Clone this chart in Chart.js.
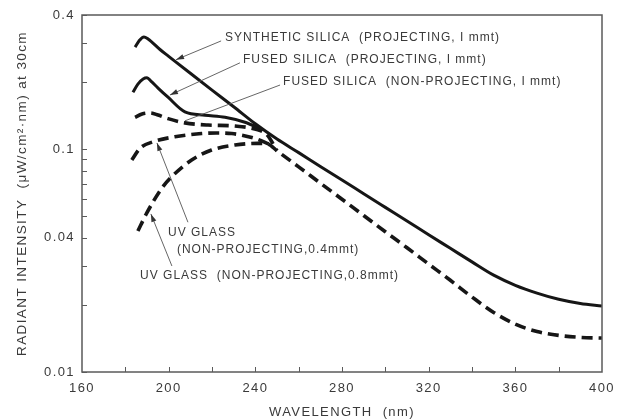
<!DOCTYPE html>
<html lang="en">
<head>
  <meta charset="UTF-8" />
  <title>Radiant intensity vs wavelength</title>
  <script src="https://cdn.jsdelivr.net/npm/chart.js"></script>
  <style>
    html, body { margin: 0; padding: 0; background: #fff; }
    #wrap { width: 624px; height: 420px; }
  </style>
</head>
<body>
  <div id="wrap"><canvas id="chart" width="624" height="420"></canvas></div>

  <script>
    // wavelength (nm) and radiant intensity (uW/cm2.nm at 30cm)
    const synthWl  = [184.5, 186.3, 188.6, 190.5, 196, 200, 210, 220, 230, 240, 250, 260, 270, 280, 290, 300, 310, 320, 330, 340, 350, 360, 370, 380, 390, 400];
    const synthVal = [0.287, 0.306, 0.319, 0.312, 0.28, 0.261, 0.219, 0.184, 0.155, 0.130, 0.111, 0.0965, 0.0836, 0.0727, 0.0631, 0.0548, 0.0476, 0.0413, 0.0359, 0.0312, 0.0272, 0.0245, 0.0226, 0.0212, 0.0203, 0.0198];

    const fusedWl  = [183.5, 185.8, 188.2, 190, 191.8, 195.1, 199.7, 207.5, 216.8, 226, 235.2, 243.5];
    const fusedVal = [0.180, 0.196, 0.2065, 0.209, 0.202, 0.188, 0.171, 0.147, 0.142, 0.139, 0.132, 0.122];

    const fusedNpWl  = [184.5, 187.7, 191.4, 195.1, 199.7, 207.5, 218.2, 230.6, 241.2, 245.4, 250];
    const fusedNpVal = [0.139, 0.1438, 0.1453, 0.1423, 0.1371, 0.1312, 0.1283, 0.127, 0.122, 0.116, 0.0983];

    const uv4Wl  = [183, 186.8, 192.9, 202.9, 215.2, 222, 229.1, 239.8, 246.8];
    const uv4Val = [0.0894, 0.101, 0.108, 0.1137, 0.1175, 0.1182, 0.1175, 0.1118, 0.105];

    const uv8Wl  = [185.8, 189.8, 196.8, 201.4, 210.6, 219.8, 230.6, 241.2, 246, 250, 260, 270, 280, 290, 300, 310, 320, 330, 340, 350, 360, 370, 380, 390, 400];
    const uv8Val = [0.0429, 0.0515, 0.0667, 0.0752, 0.0894, 0.0991, 0.1044, 0.1062, 0.1052, 0.0983, 0.0833, 0.0704, 0.0596, 0.0504, 0.0426, 0.0361, 0.0305, 0.0258, 0.0217, 0.0185, 0.0164, 0.0152, 0.0146, 0.0143, 0.0142];

    const yLabels = [0.01, 0.04, 0.1, 0.4];
    const yMinor  = [0.02, 0.03, 0.05, 0.06, 0.07, 0.08, 0.09, 0.2, 0.3];
    const xMinor  = [180, 200, 220, 240, 260, 280, 300, 320, 340, 360, 380];

    // callouts, anchored in data units [nm, value]
    const notes = [
      { text: 'SYNTHETIC SILICA  (PROJECTING, I mmt)', at: [226.0, 0.316], from: [224.2, 0.306], to: [203.4, 0.252], arrow: true },
      { text: 'FUSED SILICA  (PROJECTING, I mmt)', at: [234.3, 0.251], from: [232.9, 0.244], to: [200.6, 0.175], arrow: true },
      { text: 'FUSED SILICA  (NON-PROJECTING, I mmt)', at: [252.8, 0.200], from: [251.4, 0.194], to: [207.5, 0.134], arrow: false },
      { text: 'UV GLASS', at: [199.7, 0.0424], from: [208.9, 0.047], to: [194.6, 0.1066], arrow: true },
      { text: '(NON-PROJECTING,0.4mmt)', at: [203.8, 0.0353] },
      { text: 'UV GLASS  (NON-PROJECTING,0.8mmt)', at: [186.8, 0.027], from: [201.5, 0.0299], to: [191.8, 0.0512], arrow: true }
    ];

    const ink = '#161616';
    const textColor = '#3a3a3a';
    const family = '"Liberation Sans", Arial, sans-serif';

    const toXY = (xs, ys) => xs.map((x, i) => ({ x: x, y: ys[i] }));

    function series(xs, ys, dashed) {
      return {
        data: toXY(xs, ys),
        borderColor: ink,
        borderWidth: dashed ? 3.6 : 3,
        borderDash: dashed ? [11, 6] : [],
        pointRadius: 0,
        fill: false,
        cubicInterpolationMode: 'monotone'
      };
    }

    function arrowHead(ctx, fx, fy, tx, ty) {
      const a = Math.atan2(ty - fy, tx - fx);
      const len = 8, half = 2.6;
      const bx = tx - len * Math.cos(a), by = ty - len * Math.sin(a);
      ctx.beginPath();
      ctx.moveTo(tx, ty);
      ctx.lineTo(bx + half * Math.sin(a), by - half * Math.cos(a));
      ctx.lineTo(bx - half * Math.sin(a), by + half * Math.cos(a));
      ctx.closePath();
      ctx.fill();
    }

    const frameAndNotes = {
      id: 'frameAndNotes',
      beforeDraw(chart) {
        chart.ctx.letterSpacing = '1.4px';
      },
      afterDatasetsDraw(chart) {
        const { ctx, chartArea: a, scales: { x, y } } = chart;
        ctx.save();
        ctx.setLineDash([]);

        // plot frame
        ctx.strokeStyle = '#5a5a5a';
        ctx.lineWidth = 1.5;
        ctx.strokeRect(a.left, a.top, a.right - a.left, a.bottom - a.top);

        // inward tick marks on left and bottom
        ctx.lineWidth = 1;
        ctx.beginPath();
        yLabels.concat(yMinor).forEach(v => {
          const py = Math.round(y.getPixelForValue(v)) + 0.5;
          ctx.moveTo(a.left, py);
          ctx.lineTo(a.left + 5, py);
        });
        xMinor.forEach(v => {
          const px = Math.round(x.getPixelForValue(v)) + 0.5;
          ctx.moveTo(px, a.bottom);
          ctx.lineTo(px, a.bottom - 5);
        });
        ctx.stroke();

        // callouts
        ctx.font = '12px ' + family;
        ctx.letterSpacing = '1px';
        ctx.fillStyle = textColor;
        ctx.textBaseline = 'middle';
        ctx.textAlign = 'left';
        notes.forEach(n => {
          ctx.fillText(n.text, x.getPixelForValue(n.at[0]), y.getPixelForValue(n.at[1]));
          if (!n.from) return;
          const fx = x.getPixelForValue(n.from[0]), fy = y.getPixelForValue(n.from[1]);
          const tx = x.getPixelForValue(n.to[0]), ty = y.getPixelForValue(n.to[1]);
          ctx.strokeStyle = '#555';
          ctx.lineWidth = 0.9;
          ctx.beginPath();
          ctx.moveTo(fx, fy);
          ctx.lineTo(tx, ty);
          ctx.stroke();
          if (n.arrow) {
            ctx.fillStyle = '#333';
            arrowHead(ctx, fx, fy, tx, ty);
            ctx.fillStyle = textColor;
          }
        });
        ctx.restore();
      }
    };

    new Chart(document.getElementById('chart'), {
      type: 'line',
      data: {
        datasets: [
          series(synthWl, synthVal, false),
          series(fusedWl, fusedVal, false),
          series(fusedNpWl, fusedNpVal, true),
          series(uv4Wl, uv4Val, true),
          series(uv8Wl, uv8Val, true)
        ]
      },
      options: {
        responsive: false,
        animation: false,
        events: [],
        layout: { padding: { left: 0, right: 22, top: 15, bottom: 0 } },
        plugins: { legend: { display: false }, tooltip: { enabled: false } },
        scales: {
          x: {
            type: 'linear',
            min: 160,
            max: 400,
            grid: { display: false, drawTicks: false },
            border: { display: false },
            ticks: { stepSize: 40, maxRotation: 0, padding: 9, color: textColor, font: { family: family, size: 13 } },
            title: { display: true, text: 'WAVELENGTH  (nm)', color: textColor, font: { family: family, size: 13 }, padding: 0 },
            afterFit: s => { s.height = 48; }
          },
          y: {
            type: 'logarithmic',
            min: 0.01,
            max: 0.4,
            grid: { display: false, drawTicks: false },
            border: { display: false },
            afterBuildTicks: s => { s.ticks = yLabels.map(v => ({ value: v })); },
            ticks: { padding: 7, color: textColor, font: { family: family, size: 13 }, callback: v => String(v) },
            title: { display: true, text: 'RADIANT INTENSITY  (μW/cm²·nm) at 30cm', color: textColor, font: { family: family, size: 13.5 }, padding: { top: 14, bottom: 0 } },
            afterFit: s => { s.width = 82; }
          }
        }
      },
      plugins: [frameAndNotes]
    });
  </script>
</body>
</html>
